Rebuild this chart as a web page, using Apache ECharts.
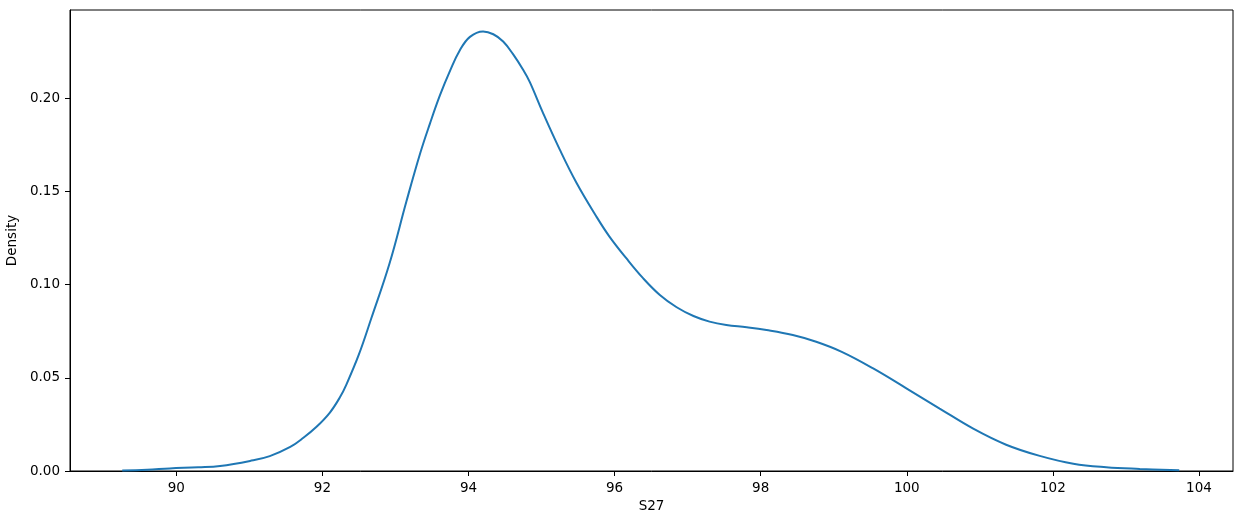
<!DOCTYPE html>
<html><head><meta charset="utf-8">
<script src="https://cdn.jsdelivr.net/npm/echarts@6/dist/echarts.min.js"></script>
<style>html,body{margin:0;padding:0;background:#fff}#c{width:1242px;height:525px}</style>
</head><body><div id="c"></div>
<script>
var xValues = [89.26, 89.6, 89.91, 90.3, 90.6, 91.01, 91.28, 91.56, 91.74, 91.92, 92.10, 92.24, 92.33, 92.5, 92.67, 92.92, 93.15, 93.34, 93.47, 93.61, 93.75, 93.88, 94.02, 94.2, 94.34, 94.475, 94.61, 94.75, 94.84, 95.02, 95.25, 95.48, 95.75, 95.93, 96.16, 96.39, 96.62, 96.85, 97.08, 97.30, 97.53, 97.81, 98.08, 98.44, 98.76, 99.11, 99.54, 100.0, 100.45, 100.91, 101.36, 101.82, 102.28, 102.73, 103.19, 103.73];
var densityValues = [0.0003, 0.0007, 0.0014, 0.002, 0.0027, 0.0054, 0.008, 0.0129, 0.0178, 0.0237, 0.0312, 0.0395, 0.0465, 0.0625, 0.0819, 0.1114, 0.1445, 0.1705, 0.186, 0.2015, 0.2148, 0.2255, 0.2328, 0.2357, 0.2342, 0.2303, 0.2235, 0.2150, 0.2085, 0.192, 0.1723, 0.1544, 0.1365, 0.1257, 0.1141, 0.1034, 0.0944, 0.0878, 0.0831, 0.0801, 0.0783, 0.0771, 0.0756, 0.0729, 0.0693, 0.0639, 0.055, 0.0442, 0.0335, 0.0227, 0.0141, 0.0081, 0.0039, 0.002, 0.0011, 0.0004];
var xTicks = [90, 92, 94, 96, 98, 100, 102, 104];
var yTicks = [0, 0.05, 0.10, 0.15, 0.20];

var chart = echarts.init(document.getElementById('c'));
var font = 'DejaVu Sans';
chart.setOption({
  animation: false,
  grid: {left: 70, right: 9, top: 10, bottom: 54, show: true, borderColor: '#000', borderWidth: 1,
         containLabel: false, outerBoundsMode: 'none'},
  xAxis: {
    type: 'value', min: 88.545, max: 104.466,
    name: 'S27', nameLocation: 'middle', nameGap: 28,
    nameTextStyle: {color: '#000', fontSize: 13.5, fontFamily: font},
    axisLine: {show: true, onZero: false, lineStyle: {color: '#000', width: 1}},
    axisTick: {show: true, inside: false, length: 5, customValues: xTicks, lineStyle: {color: '#000'}},
    axisLabel: {customValues: xTicks, color: '#000', fontSize: 13.5, fontFamily: font, margin: 10},
    splitLine: {show: false}
  },
  yAxis: {
    type: 'value', min: 0, max: 0.2472,
    name: 'Density', nameLocation: 'middle', nameGap: 46.5,
    nameTextStyle: {color: '#000', fontSize: 13.5, fontFamily: font},
    axisLine: {show: true, lineStyle: {color: '#000', width: 1}},
    axisTick: {show: true, inside: false, length: 5, customValues: yTicks, lineStyle: {color: '#000'}},
    axisLabel: {customValues: yTicks, color: '#000', fontSize: 13.5, fontFamily: font, margin: 10,
      formatter: function(v){ return v.toFixed(2); }},
    splitLine: {show: false}
  },
  series: [{
    type: 'line', smooth: 0.4, showSymbol: false,
    lineStyle: {color: '#1f77b4', width: 2},
    data: xValues.map(function(x, i){ return [x, densityValues[i]]; })
  }]
});
</script></body></html>
